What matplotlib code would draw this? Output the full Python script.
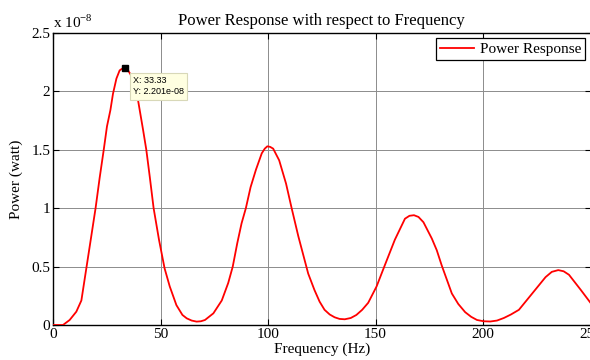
import matplotlib
matplotlib.use("Agg")
import matplotlib.pyplot as plt
from matplotlib.ticker import FixedLocator, FuncFormatter

# Data (power in units of 1e-8 W)
freq = [0, 2, 4.65, 7.75, 10.85, 13.2, 15.5, 17.8, 19.8, 21.7, 23.6, 25.1, 26.7,
        27.9, 29.5, 31.0, 32.2, 33.33, 34.6, 35.9, 37.2, 39.5, 41.9, 43.4, 45.0,
        46.8, 49.3, 51.9, 54.3, 57.4, 60.2, 62.2, 64.5, 66.8, 68.8, 70.7, 74.6,
        78.5, 81.5, 83.6, 85.7, 87.7, 89.7, 91.9, 94.4, 97.1, 98.5, 99.7, 101.0,
        102.4, 105.2, 108.4, 111, 114.1, 118.7, 121.6, 124.0, 126.3, 128.7, 131,
        133.3, 135.7, 138.5, 141.1, 143.8, 146.6, 150.5, 154.3, 159, 163.7, 165.8,
        167.9, 170.0, 172.3, 176.2, 178.5, 180.8, 185.5, 188.5, 191.7, 194.5, 197.2,
        200.3, 203.4, 206.5, 209.7, 213.0, 216.7, 222.9, 226.0, 229.1, 232.0, 235,
        237.5, 240, 245.5, 250]
power = [0, 0, 0.0, 0.043, 0.114, 0.21, 0.485, 0.76, 1.0, 1.26, 1.50, 1.70, 1.84,
         1.98, 2.11, 2.18, 2.195, 2.201, 2.19, 2.15, 2.10, 1.93, 1.67, 1.50, 1.27,
         1.0, 0.73, 0.485, 0.33, 0.17, 0.086, 0.057, 0.038, 0.029, 0.032, 0.043, 0.10,
         0.21, 0.36, 0.5, 0.70, 0.87, 1.0, 1.18, 1.33, 1.47, 1.51, 1.53, 1.525,
         1.51, 1.41, 1.21, 1.0, 0.76, 0.44, 0.30, 0.20, 0.13, 0.09, 0.066,
         0.052, 0.049, 0.060, 0.086, 0.13, 0.19, 0.33, 0.51, 0.73, 0.91, 0.935,
         0.94, 0.925, 0.88, 0.74, 0.64, 0.51, 0.27, 0.18, 0.11, 0.07, 0.043,
         0.032, 0.03, 0.038, 0.06, 0.09, 0.13, 0.27, 0.34, 0.41, 0.455, 0.47,
         0.46, 0.43, 0.30, 0.19]

xticks = [0, 50, 100, 150, 200, 250]
yticks = [0, 0.5, 1, 1.5, 2, 2.5]
tip_x, tip_y = 33.33, 2.201

serif = ['Liberation Serif', 'DejaVu Serif']
plt.rcParams['font.family'] = serif

fig = plt.figure(figsize=(5.9, 3.6), dpi=100)
ax = fig.add_axes([53/590, 35/360, (590.5-53)/590, (325-33)/360])

ax.plot(freq, power, color='red', lw=1.3, label='Power Response', zorder=3,
        solid_joinstyle='round')

ax.set_xlim(0, 250)
ax.set_ylim(0, 2.5)
ax.xaxis.set_major_locator(FixedLocator(xticks))
ax.yaxis.set_major_locator(FixedLocator(yticks))
ax.yaxis.set_major_formatter(FuncFormatter(lambda v, p: f"{v:g}"))
ax.tick_params(direction='in', length=4, width=0.8, top=True, right=True,
               labelsize=11, colors='black', pad=2)
ax.grid(True, color='#8c8c8c', lw=0.7, ls='-')
for s in ax.spines.values():
    s.set_linewidth(1.0)
    s.set_color('black')

ax.set_title('Power Response with respect to Frequency', fontsize=12, pad=6)
ax.set_xlabel('Frequency (Hz)', fontsize=11, labelpad=1)
ax.set_ylabel('Power (watt)', fontsize=11, labelpad=6)

fig.text(53/590, 1 - 22/360, r'x 10$^{\mathregular{-8}}$', fontsize=11,
         ha='left', va='center')

leg = ax.legend(loc='upper right', fontsize=11, frameon=True, fancybox=False,
                edgecolor='black', framealpha=1, borderpad=0.25, handlelength=2.2,
                handletextpad=0.4, borderaxespad=0.35)
leg.get_frame().set_linewidth(0.9)

# data tip
ax.plot([tip_x], [tip_y], marker='s', color='black', ms=5, zorder=5)
ax.annotate(f"X: {tip_x:.2f}\nY: {tip_y*1e-8:.3e}", xy=(tip_x, tip_y),
            xytext=(6, -6), textcoords='offset points', ha='left', va='top',
            fontsize=6.5, family=['Liberation Sans', 'DejaVu Sans'],
            linespacing=1.3,
            bbox=dict(boxstyle='square,pad=0.35', fc='#ffffe1', ec='#d8d8b8', lw=0.8),
            zorder=6)

fig.savefig('out.png', dpi=100)
